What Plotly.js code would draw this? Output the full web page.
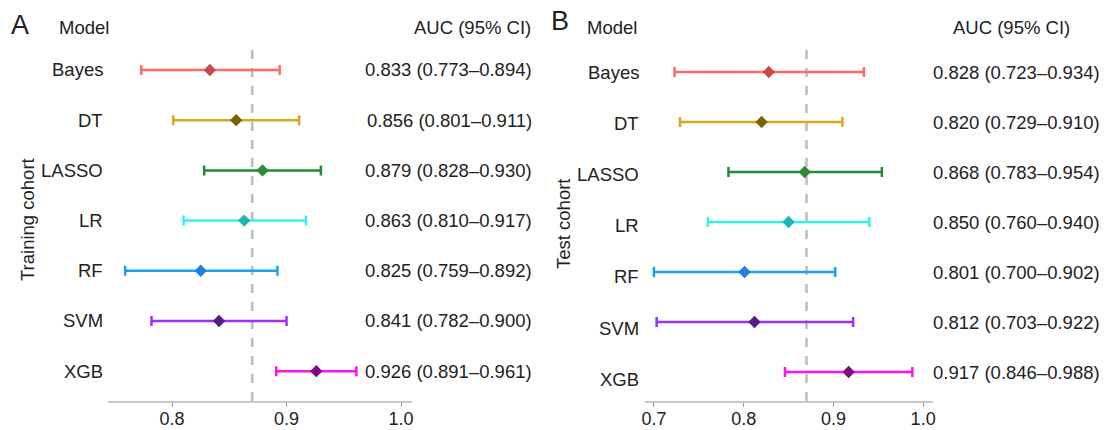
<!DOCTYPE html>
<html>
<head>
<meta charset="utf-8">
<script src="https://cdn.plot.ly/plotly-3.0.1.min.js"></script>
<style>html,body{margin:0;padding:0;background:#fff;}#chart{width:1105px;height:430px;}</style>
</head>
<body>
<div id="chart"></div>
<script>
const models = ["Bayes", "DT", "LASSO", "LR", "RF", "SVM", "XGB"];
const trainAUC  = [0.833, 0.856, 0.879, 0.863, 0.825, 0.841, 0.926];
const trainLow  = [0.773, 0.801, 0.828, 0.810, 0.759, 0.782, 0.891];
const trainHigh = [0.894, 0.911, 0.930, 0.917, 0.892, 0.900, 0.961];
const testAUC   = [0.828, 0.820, 0.868, 0.850, 0.801, 0.812, 0.917];
const testLow   = [0.723, 0.729, 0.783, 0.760, 0.700, 0.703, 0.846];
const testHigh  = [0.934, 0.910, 0.954, 0.940, 0.902, 0.922, 0.988];
const refLine = 0.87;
const trainTicks = [0.8, 0.9, 1.0];
const testTicks = [0.7, 0.8, 0.9, 1.0];
const tickText = v => v.toFixed(1);

const barColors = ["#FF6B6B", "#DAA520", "#1E8C3A", "#33F0F0", "#1AA3E8", "#9B30FF", "#FF10F0"];
const dotColors = ["#C94A4A", "#7A6400", "#2E8B2E", "#1FB5B5", "#1E7FE0", "#5A1A8A", "#7E0A7E"];

const FONT = "Liberation Sans, Arial, Helvetica, sans-serif";
const TXT = "#222222";
const FS = 18.5;
const W = 1105, PH = 401;
const px = x => x / W;
const py = y => 1 - y / PH;

const traces = [];
models.forEach((m, i) => {
  traces.push({
    type: "scatter", mode: "markers", x: [trainAUC[i]], y: [m], xaxis: "x", yaxis: "y",
    error_x: {type: "data", symmetric: false, array: [trainHigh[i] - trainAUC[i]], arrayminus: [trainAUC[i] - trainLow[i]], color: barColors[i], thickness: 2.5, width: 5},
    marker: {symbol: "diamond", size: 9.5, color: dotColors[i]}, showlegend: false, hoverinfo: "x"
  });
  traces.push({
    type: "scatter", mode: "markers", x: [testAUC[i]], y: [m], xaxis: "x2", yaxis: "y2",
    error_x: {type: "data", symmetric: false, array: [testHigh[i] - testAUC[i]], arrayminus: [testAUC[i] - testLow[i]], color: barColors[i], thickness: 2.5, width: 5},
    marker: {symbol: "diamond", size: 9.5, color: dotColors[i]}, showlegend: false, hoverinfo: "x"
  });
});

const fmt = (a, l, h) => `${a.toFixed(3)} (${l.toFixed(3)}–${h.toFixed(3)})`;
const annotations = [];
const tf = (s) => ({family: FONT, size: s, color: TXT});
models.forEach((m, i) => {
  annotations.push({xref: "paper", yref: "y", x: px(105), y: m, text: m, showarrow: false, xanchor: "right", yanchor: "middle", font: tf(FS)});
  annotations.push({xref: "paper", yref: "y", x: px(534), y: m, text: fmt(trainAUC[i], trainLow[i], trainHigh[i]), showarrow: false, xanchor: "right", yanchor: "middle", font: tf(FS)});
  annotations.push({xref: "paper", yref: "y2", x: px(641), y: m, yshift: -i * 1.2, text: m, showarrow: false, xanchor: "right", yanchor: "middle", font: tf(FS)});
  annotations.push({xref: "paper", yref: "y2", x: px(1102), y: m, text: fmt(testAUC[i], testLow[i], testHigh[i]), showarrow: false, xanchor: "right", yanchor: "middle", font: tf(FS)});
});
annotations.push({xref: "paper", yref: "paper", x: px(111), y: py(27), text: "Model", showarrow: false, xanchor: "right", yanchor: "middle", font: tf(FS)});
annotations.push({xref: "paper", yref: "paper", x: px(533), y: py(27), text: "AUC (95% CI)", showarrow: false, xanchor: "right", yanchor: "middle", font: tf(FS)});
annotations.push({xref: "paper", yref: "paper", x: px(639), y: py(27), text: "Model", showarrow: false, xanchor: "right", yanchor: "middle", font: tf(FS)});
annotations.push({xref: "paper", yref: "paper", x: px(1072), y: py(27), text: "AUC (95% CI)", showarrow: false, xanchor: "right", yanchor: "middle", font: tf(FS)});
annotations.push({xref: "paper", yref: "paper", x: px(20), y: py(25), text: "A", showarrow: false, xanchor: "center", yanchor: "middle", font: tf(27)});
annotations.push({xref: "paper", yref: "paper", x: px(560), y: py(21), text: "B", showarrow: false, xanchor: "center", yanchor: "middle", font: tf(27)});
annotations.push({xref: "paper", yref: "paper", x: px(27), y: py(220), text: "Training cohort", textangle: -90, showarrow: false, xanchor: "center", yanchor: "middle", font: tf(FS)});
annotations.push({xref: "paper", yref: "paper", x: px(564), y: py(224), text: "Test cohort", textangle: -90, showarrow: false, xanchor: "center", yanchor: "middle", font: tf(FS)});

const xCommon = {
  showgrid: false, zeroline: false, showline: true, linecolor: "#C8C8C8", linewidth: 1.5,
  ticks: "outside", ticklen: 4, tickcolor: "#999999", tickwidth: 1, ticklabelstandoff: -3,
  tickfont: {family: FONT, size: 18, color: TXT}, fixedrange: true
};
const yCommon = {
  type: "category", categoryorder: "array", categoryarray: models,
  showgrid: false, zeroline: false, showline: false, showticklabels: false, ticks: "", fixedrange: true
};

const layout = {
  width: 1105, height: 430,
  margin: {l: 0, r: 0, t: 0, b: 29},
  paper_bgcolor: "#ffffff", plot_bgcolor: "#ffffff",
  xaxis: Object.assign({}, xCommon, {domain: [px(108), px(412)], range: [0.744, 1.0096], tickvals: trainTicks, ticktext: trainTicks.map(tickText), anchor: "y"}),
  yaxis: Object.assign({}, yCommon, {range: [6.594, -1.394], anchor: "x"}),
  xaxis2: Object.assign({}, xCommon, {domain: [px(645), px(933)], range: [0.690, 1.011], tickvals: testTicks, ticktext: testTicks.map(tickText), anchor: "y2"}),
  yaxis2: Object.assign({}, yCommon, {range: [6.58, -1.44], anchor: "x2"}),
  shapes: [
    {type: "line", xref: "x", yref: "paper", x0: refLine, x1: refLine, y0: 0, y1: py(47), line: {color: "#BDBDBD", width: 2.5, dash: "dash"}, layer: "below"},
    {type: "line", xref: "x2", yref: "paper", x0: refLine, x1: refLine, y0: 0, y1: py(49), line: {color: "#BDBDBD", width: 2.5, dash: "dash"}, layer: "below"}
  ],
  annotations: annotations,
  showlegend: false
};

Plotly.newPlot("chart", traces, layout, {staticPlot: true, displayModeBar: false});
</script>
</body>
</html>
